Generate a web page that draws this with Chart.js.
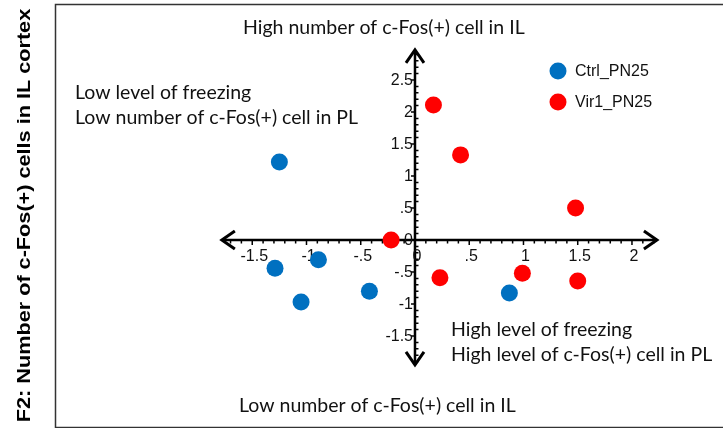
<!DOCTYPE html>
<html>
<head>
<meta charset="utf-8">
<script src="https://cdn.jsdelivr.net/npm/chart.js@4"></script>
<style>
  html, body { margin: 0; padding: 0; background: #fff; }
  #wrap { width: 723px; height: 428px; }
</style>
</head>
<body>
<div id="wrap"><canvas id="chartScatter" width="723" height="428"></canvas></div>
<script>
// values
var ctrlX = [-1.25, -1.29, -0.89, -1.05, -0.42, 0.87];
var ctrlY = [1.22, -0.44, -0.31, -0.97, -0.80, -0.83];
var virX = [0.17, 0.42, 1.48, -0.22, 0.23, 0.99, 1.50];
var virY = [2.11, 1.33, 0.50, 0, -0.59, -0.52, -0.64];
var seriesNames = ['Ctrl_PN25', 'Vir1_PN25'];
var seriesColors = ['#0070C0', '#FF0000'];

var xTicks = [-1.5, -1, -0.5, 0, 0.5, 1, 1.5, 2];
var xTickLabels = ['-1.5', '-1', '-.5', '0', '.5', '1', '1.5', '2'];
var yTicks = [-1.5, -1, -0.5, 0, 0.5, 1, 1.5, 2, 2.5];
var yTickLabels = ['-1.5', '-1', '-.5', '0', '.5', '1', '1.5', '2', '2.5'];

var yTitle = 'F2: Number of c-Fos(+) cells in IL cortex';
var noteTop = 'High number of c-Fos(+) cell in IL';
var noteBottom = 'Low number of c-Fos(+) cell in IL';
var noteLeft = ['Low level of freezing', 'Low number of c-Fos(+) cell in PL'];
var noteRight = ['High level of freezing', 'High level of c-Fos(+) cell in PL'];

function toPoints(xs, ys) {
  var pts = [];
  for (var i = 0; i < xs.length; i++) pts.push({x: xs[i], y: ys[i]});
  return pts;
}

var tickFont = '16px "Liberation Sans", Arial, sans-serif';
var noteFont = '19.5px Lato, "Open Sans", sans-serif';

// axes through the origin, with arrows, frame and y title
var crossAxes = {
  id: 'crossAxes',
  beforeDatasetsDraw: function(chart) {
    var c = chart.ctx, xs = chart.scales.x, ys = chart.scales.y, a = chart.chartArea;
    var x0 = xs.getPixelForValue(0), y0 = ys.getPixelForValue(0);
    var xl = xs.getPixelForValue(-1.78), xr = xs.getPixelForValue(2.23);
    var yt = ys.getPixelForValue(2.97), yb = ys.getPixelForValue(-1.95);
    c.save();
    // frame
    c.strokeStyle = '#333';
    c.lineWidth = 1.5;
    c.strokeRect(a.left + 0.5, a.top + 0.5, a.right - a.left + 6, a.bottom - a.top);

    c.strokeStyle = '#000';
    c.lineWidth = 2.5;
    c.beginPath();
    c.moveTo(xl, y0); c.lineTo(xr, y0);
    c.moveTo(x0, yt); c.lineTo(x0, yb);
    c.stroke();
    // arrow heads
    c.lineWidth = 3;
    c.beginPath();
    c.moveTo(xl + 13, y0 - 9); c.lineTo(xl, y0); c.lineTo(xl + 13, y0 + 9);
    c.moveTo(xr - 13, y0 - 9); c.lineTo(xr, y0); c.lineTo(xr - 13, y0 + 9);
    c.moveTo(x0 - 9, yt + 13); c.lineTo(x0, yt); c.lineTo(x0 + 9, yt + 13);
    c.moveTo(x0 - 9, yb - 13); c.lineTo(x0, yb); c.lineTo(x0 + 9, yb - 13);
    c.stroke();

    // minor ticks
    c.lineWidth = 1.5;
    c.beginPath();
    var v, p;
    for (v = -17; v <= 22; v++) {
      if (v % 5 === 0) continue;
      p = xs.getPixelForValue(v / 10);
      c.moveTo(p, y0); c.lineTo(p, y0 + 3.5);
    }
    for (v = -19; v <= 29; v++) {
      if (v % 5 === 0) continue;
      p = ys.getPixelForValue(v / 10);
      c.moveTo(x0, p); c.lineTo(x0 + 3.5, p);
    }
    c.stroke();
    // major ticks
    c.beginPath();
    xTicks.forEach(function(t) {
      p = xs.getPixelForValue(t);
      c.moveTo(p, y0); c.lineTo(p, y0 + 5);
    });
    yTicks.forEach(function(t) {
      p = ys.getPixelForValue(t);
      c.moveTo(x0 - 4, p); c.lineTo(x0, p);
    });
    c.stroke();

    // tick labels
    c.fillStyle = '#111';
    c.font = tickFont;
    c.textAlign = 'center';
    c.textBaseline = 'middle';
    xTicks.forEach(function(t, i) {
      c.fillText(xTickLabels[i], xs.getPixelForValue(t) + 2, y0 + 17);
    });
    c.textAlign = 'right';
    yTicks.forEach(function(t, i) {
      c.fillText(yTickLabels[i], x0 - 2, ys.getPixelForValue(t) + 1);
    });

    // y title
    c.save();
    c.translate(25, (a.top + a.bottom) / 2);
    c.rotate(-Math.PI / 2);
    c.scale(1.14, 1);
    c.font = 'bold 19px "Liberation Sans", Arial, sans-serif';
    c.textAlign = 'center';
    c.textBaseline = 'middle';
    c.fillStyle = '#000';
    c.fillText(yTitle, 0, 0);
    c.restore();
    c.restore();
  },
  afterDatasetsDraw: function(chart) {
    var c = chart.ctx;
    c.save();
    // quadrant notes
    c.font = noteFont;
    c.fillStyle = '#111';
    c.textAlign = 'left';
    c.textBaseline = 'middle';
    c.fillText(noteTop, 243, 28);
    c.fillText(noteLeft[0], 75, 93);
    c.fillText(noteLeft[1], 75, 118);
    c.fillText(noteRight[0], 451, 330);
    c.fillText(noteRight[1], 451, 355);
    c.fillText(noteBottom, 239, 406);

    // legend
    c.font = '16px "Liberation Sans", Arial, sans-serif';
    chart.data.datasets.forEach(function(ds, i) {
      var ly = 71 + i * 31;
      c.fillStyle = ds.backgroundColor;
      c.beginPath();
      c.arc(558, ly, 8.5, 0, Math.PI * 2);
      c.fill();
      c.fillStyle = '#111';
      c.fillText(ds.label, 575, ly + 1);
    });
    c.restore();
  }
};

var ctx = document.getElementById('chartScatter').getContext('2d');
var chartScatter = new Chart(ctx, {
  type: 'scatter',
  data: {
    datasets: [
      {
        label: seriesNames[0],
        data: toPoints(ctrlX, ctrlY),
        backgroundColor: seriesColors[0],
        borderColor: seriesColors[0],
        pointRadius: 8.5,
        borderWidth: 0
      },
      {
        label: seriesNames[1],
        data: toPoints(virX, virY),
        backgroundColor: seriesColors[1],
        borderColor: seriesColors[1],
        pointRadius: 8.5,
        borderWidth: 0
      }
    ]
  },
  options: {
    responsive: false,
    animation: false,
    devicePixelRatio: 1,
    layout: { autoPadding: false, padding: { left: 55, top: 4, right: 0, bottom: 1 } },
    plugins: {
      legend: { display: false },
      tooltip: { enabled: false }
    },
    scales: {
      x: { type: 'linear', display: false, min: -3.318, max: 2.839 },
      y: { type: 'linear', display: false, min: -2.922, max: 3.6875 }
    }
  },
  plugins: [crossAxes]
});
</script>
</body>
</html>
